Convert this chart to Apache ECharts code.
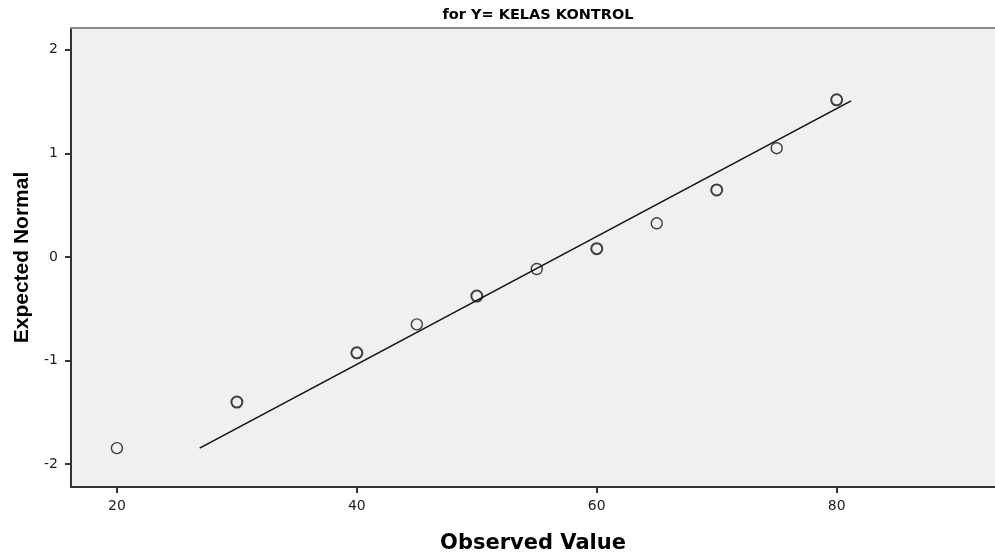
<!DOCTYPE html>
<html>
<head>
<meta charset="utf-8">
<script src="https://cdn.jsdelivr.net/npm/echarts@6/dist/echarts.min.js"></script>
<style>html,body{margin:0;padding:0;background:#fff}#c{width:995px;height:555px}</style>
</head>
<body>
<div id="c"></div>
<script>
const titleText = "for Y= KELAS KONTROL";
const xName = "Observed Value";
const yName = "Expected Normal";
const observed = [20, 30, 40, 45, 50, 55, 60, 65, 70, 75, 80];
const expected = [-1.845, -1.40, -0.925, -0.65, -0.377, -0.116, 0.08, 0.325, 0.647, 1.05, 1.517];
const boldPoint = [false, true, true, false, true, false, true, false, true, false, true];
const lineX = [26.9, 81.2];
const lineY = [-1.845, 1.507];
const xTicks = [20, 40, 60, 80];
const yTicks = [-2, -1, 0, 1, 2];

const pts = observed.map((x, i) => ({
  value: [x, expected[i]],
  itemStyle: { borderWidth: boldPoint[i] ? 2 : 1.4 }
}));

const chart = echarts.init(document.getElementById('c'), null, { renderer: 'canvas' });
chart.setOption({
  animation: false,
  title: {
    text: titleText, left: 533, top: 3, textAlign: 'center',
    textStyle: { fontFamily: 'DejaVu Sans', fontWeight: 'bold', fontSize: 14.5, color: '#000' }
  },
  grid: { left: 71, top: 28, right: 0, bottom: 68, show: true, backgroundColor: '#f0f0f0', borderWidth: 0,
          containLabel: false, outerBoundsMode: 'none' },
  xAxis: [{
    type: 'value', min: 16.17, max: 93.2, interval: 20,
    axisLabel: { color: '#222', fontFamily: 'DejaVu Sans', fontSize: 14, margin: 12, customValues: xTicks },
    axisTick: { show: true, length: 6, lineStyle: { color: '#333', width: 2 }, customValues: xTicks },
    axisLine: { onZero: false, lineStyle: { color: '#333', width: 2 } },
    splitLine: { show: false },
    name: xName, nameLocation: 'middle', nameGap: 46,
    nameTextStyle: { fontFamily: 'DejaVu Sans', fontWeight: 'bold', fontSize: 21, color: '#000' }
  }, {
    type: 'value', position: 'top', min: 16.17, max: 93.2,
    axisLabel: { show: false }, axisTick: { show: false }, splitLine: { show: false },
    axisLine: { onZero: false, lineStyle: { color: '#888', width: 2 } }
  }],
  yAxis: {
    type: 'value', min: -2.22, max: 2.21,
    axisLabel: { color: '#222', fontFamily: 'DejaVu Sans', fontSize: 14, margin: 13, customValues: yTicks },
    axisTick: { show: true, length: 6, lineStyle: { color: '#333', width: 2 }, customValues: yTicks },
    axisLine: { onZero: false, lineStyle: { color: '#333', width: 2 } },
    splitLine: { show: false },
    name: yName, nameLocation: 'middle', nameGap: 38, nameRotate: 90,
    nameTextStyle: { fontFamily: 'Liberation Sans', fontWeight: 'bold', fontSize: 21, color: '#000' }
  },
  series: [{
    type: 'line', data: lineX.map((x, i) => [x, lineY[i]]), symbol: 'none',
    lineStyle: { color: '#111', width: 1.6 }, z: 2
  }, {
    type: 'scatter', data: pts, symbol: 'circle', symbolSize: 11,
    itemStyle: { color: 'rgba(0,0,0,0)', borderColor: '#111' }, z: 3
  }]
});
</script>
</body>
</html>
